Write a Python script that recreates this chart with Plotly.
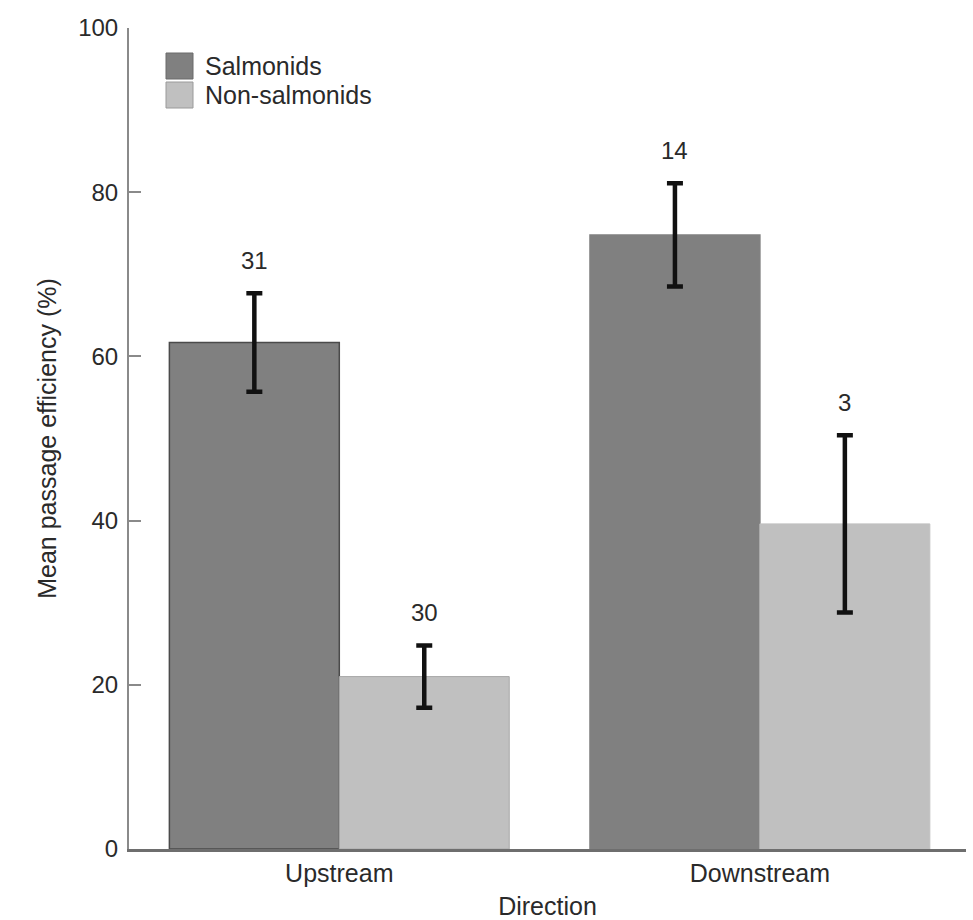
import plotly.graph_objects as go

# Passage efficiency by migration direction
directions = ["Upstream", "Downstream"]
group_names = ["Salmonids", "Non-salmonids"]
salmonid_mean = [61.7, 74.8]
salmonid_err = [6.0, 6.3]
nonsalmonid_mean = [21.0, 39.6]
nonsalmonid_err = [3.8, 10.8]
salmonid_n = [31, 14]
nonsalmonid_n = [30, 3]
y_ticks = [0, 20, 40, 60, 80, 100]

dark_fill = "#808080"
light_fill = "#c0c0c0"
text_color = "#2a2a2a"
font_family = "Liberation Sans, Arial, sans-serif"

W, H = 973, 920
margin = dict(l=129, r=7, t=28, b=71)
bargap = 0.192
x_range = [-0.5, 1.49]

fig = go.Figure()

err_style = dict(type="data", color="#111111", thickness=4.5, width=8)

fig.add_trace(go.Bar(
    name=group_names[0], x=directions, y=salmonid_mean,
    marker=dict(color=dark_fill, line=dict(color=["#4a4a4a", dark_fill], width=1.5)),
    error_y=dict(array=salmonid_err, **err_style),
    showlegend=False,
))
fig.add_trace(go.Bar(
    name=group_names[1], x=directions, y=nonsalmonid_mean,
    marker=dict(color=light_fill, line=dict(color=["#a8a8a8", light_fill], width=1)),
    error_y=dict(array=nonsalmonid_err, **err_style),
    showlegend=False,
))

# sample sizes above each error bar; shift sideways by half a bar width
plot_w = W - margin["l"] - margin["r"]
px_per_cat = plot_w / (x_range[1] - x_range[0])
half_bar = px_per_cat * (1 - bargap) / 2 / 2
annotations = []
for means, errs, counts, sign in [
    (salmonid_mean, salmonid_err, salmonid_n, -1),
    (nonsalmonid_mean, nonsalmonid_err, nonsalmonid_n, 1),
]:
    for d, m, e, n in zip(directions, means, errs, counts):
        annotations.append(dict(
            x=d, y=m + e, xref="x", yref="y", text=str(n), showarrow=False,
            xshift=sign * half_bar, yshift=17, yanchor="bottom",
            font=dict(size=24, color=text_color, family=font_family),
        ))

# key in the upper-left corner
plot_h = H - margin["t"] - margin["b"]
def px_x(p):
    return (p - margin["l"]) / plot_w
def px_y(p):
    return (H - margin["b"] - p) / plot_h

shapes = []
key_rows = [(group_names[0], dark_fill, 53), (group_names[1], light_fill, 82)]
for name, fill, top in key_rows:
    shapes.append(dict(
        type="rect", xref="paper", yref="paper",
        x0=px_x(166), x1=px_x(193), y0=px_y(top + 26), y1=px_y(top),
        fillcolor=fill, line=dict(color="#9a9a9a" if fill == light_fill else "#6a6a6a", width=1),
    ))
    annotations.append(dict(
        x=px_x(203), y=px_y(top + 13), xref="paper", yref="paper",
        text=name, showarrow=False, xanchor="left", yanchor="middle",
        font=dict(size=25, color=text_color, family=font_family),
    ))

fig.update_layout(
    width=W, height=H, margin=margin,
    barmode="group", bargap=bargap, bargroupgap=0,
    paper_bgcolor="white", plot_bgcolor="white",
    font=dict(family=font_family, size=24, color=text_color),
    annotations=annotations, shapes=shapes,
    xaxis=dict(
        range=x_range, automargin=False,
        showline=True, linewidth=3, linecolor="#6e6e6e",
        ticks="", showgrid=False, zeroline=False,
        tickfont=dict(size=25, color=text_color),
        title=dict(text="Direction", font=dict(size=25, color=text_color), standoff=15),
    ),
    yaxis=dict(
        range=[0, 100], tickvals=y_ticks, automargin=False,
        showline=True, linewidth=2, linecolor="#8a8a8a",
        ticks="inside", ticklen=12, tickwidth=2, tickcolor="#8a8a8a",
        showgrid=False, zeroline=False,
        tickfont=dict(size=24, color=text_color), ticklabelstandoff=4,
        title=dict(text="Mean passage efficiency (%)", font=dict(size=25, color=text_color), standoff=14),
    ),
)

fig.write_html("out.html")
